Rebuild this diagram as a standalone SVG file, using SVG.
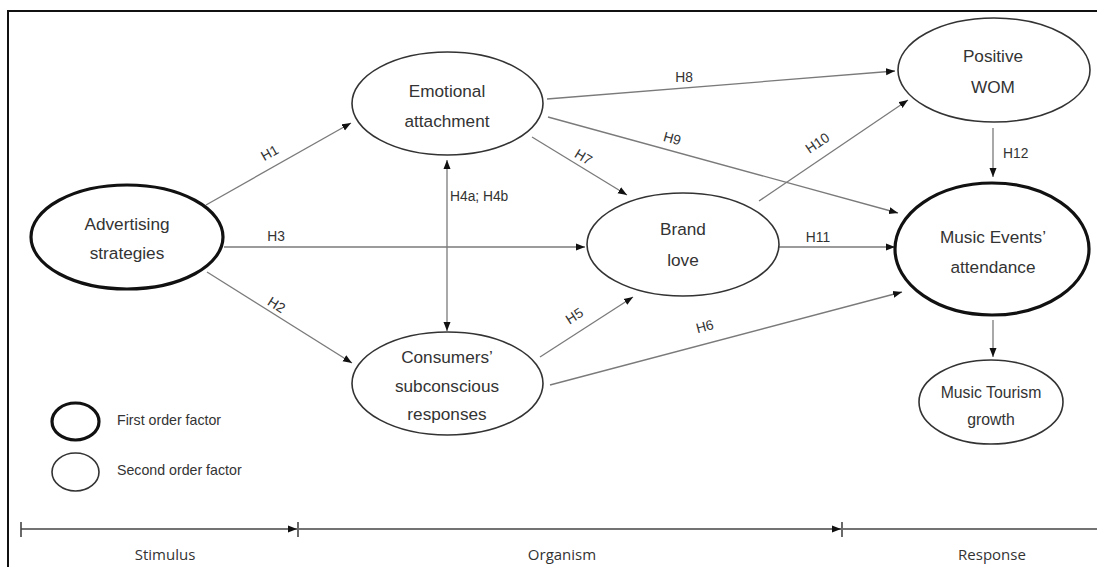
<svg xmlns="http://www.w3.org/2000/svg" width="1097" height="567" viewBox="0 0 1097 567">
<style>
  .thin { fill: #fff; stroke: #333; stroke-width: 1.6; }
  .thick { fill: #fff; stroke: #111; stroke-width: 3.2; }
  .nt { font-family: "Liberation Sans", Arial, sans-serif; font-size: 17.2px; fill: #333; text-anchor: middle; }
  .lbl { font-family: "Liberation Sans", Arial, sans-serif; font-size: 13.8px; fill: #333; text-anchor: middle; }
  .lg { font-family: "Liberation Sans", Arial, sans-serif; font-size: 14.2px; fill: #333; }
  .tl { font-family: "Open Sans", "DejaVu Sans", sans-serif; font-size: 15px; fill: #333; text-anchor: middle; }
  .c { stroke: #7a7a7a; stroke-width: 1.3; fill: none; }
  .axis { stroke: #444; stroke-width: 1.6; fill: none; }
</style>
<defs>
  <marker id="arr" markerUnits="userSpaceOnUse" markerWidth="10" markerHeight="8" refX="9" refY="4" orient="auto">
    <path d="M0,0.5 L9,4 L0,7.5 z" fill="#111"/>
  </marker>
  <marker id="arrs" markerUnits="userSpaceOnUse" markerWidth="10" markerHeight="8" refX="9" refY="4" orient="auto-start-reverse">
    <path d="M0,0.5 L9,4 L0,7.5 z" fill="#111"/>
  </marker>
</defs>
<rect width="1097" height="567" fill="#fff"/>
<!-- frame -->
<path d="M8,567 L8,11 L1097,11" stroke="#111" stroke-width="2" fill="none"/>

<g id="connectors">
  <line class="c" x1="206" y1="205" x2="351" y2="123" marker-end="url(#arr)"/>
  <line class="c" x1="224" y1="247" x2="585" y2="247" marker-end="url(#arr)"/>
  <line class="c" x1="207" y1="272" x2="352" y2="363" marker-end="url(#arr)"/>
  <line class="c" x1="447" y1="160" x2="447" y2="331" marker-start="url(#arrs)" marker-end="url(#arr)"/>
  <line class="c" x1="532" y1="137" x2="627" y2="195" marker-end="url(#arr)"/>
  <line class="c" x1="547" y1="99" x2="895" y2="71" marker-end="url(#arr)"/>
  <line class="c" x1="548" y1="117" x2="898" y2="213" marker-end="url(#arr)"/>
  <line class="c" x1="759" y1="201" x2="908" y2="100" marker-end="url(#arr)"/>
  <line class="c" x1="779" y1="247" x2="895" y2="247" marker-end="url(#arr)"/>
  <line class="c" x1="993" y1="128" x2="993" y2="177" marker-end="url(#arr)"/>
  <line class="c" x1="540" y1="357" x2="633" y2="297" marker-end="url(#arr)"/>
  <line class="c" x1="550" y1="385" x2="902" y2="292" marker-end="url(#arr)"/>
  <line class="c" x1="993" y1="320" x2="993" y2="357" marker-end="url(#arr)"/>
  <text class="lbl" transform="translate(272,157) rotate(-29.4)">H1</text>
  <text class="lbl" x="276" y="241">H3</text>
  <text class="lbl" transform="translate(274,309) rotate(32)">H2</text>
  <text class="lbl" x="450" y="201" style="text-anchor:start">H4a; H4b</text>
  <text class="lbl" transform="translate(581,161) rotate(31.4)">H7</text>
  <text class="lbl" x="684" y="82">H8</text>
  <text class="lbl" transform="translate(671,143) rotate(15.3)">H9</text>
  <text class="lbl" transform="translate(820,147) rotate(-34)">H10</text>
  <text class="lbl" x="818" y="242">H11</text>
  <text class="lbl" x="1003" y="158" style="text-anchor:start">H12</text>
  <text class="lbl" transform="translate(577,320) rotate(-33)">H5</text>
  <text class="lbl" transform="translate(706,331) rotate(-14.8)">H6</text>
</g>

<g id="advertising">
  <ellipse class="thick" cx="127" cy="237" rx="96" ry="52"/>
  <text class="nt" x="127" y="230">Advertising</text>
  <text class="nt" x="127" y="259">strategies</text>
</g>
<g id="emotional">
  <ellipse class="thin" cx="447.5" cy="103.5" rx="95.5" ry="51.5"/>
  <text class="nt" x="447" y="97">Emotional</text>
  <text class="nt" x="447" y="127">attachment</text>
</g>
<g id="consumers">
  <ellipse class="thin" cx="447.5" cy="383.5" rx="95.5" ry="51.5"/>
  <text class="nt" x="447" y="363">Consumers’</text>
  <text class="nt" x="447" y="392">subconscious</text>
  <text class="nt" x="447" y="420">responses</text>
</g>
<g id="brandlove">
  <ellipse class="thin" cx="683" cy="244.5" rx="96" ry="51.5"/>
  <text class="nt" x="683" y="235">Brand</text>
  <text class="nt" x="683" y="266">love</text>
</g>
<g id="wom">
  <ellipse class="thin" cx="994" cy="70" rx="96" ry="52"/>
  <text class="nt" x="993" y="62">Positive</text>
  <text class="nt" x="993" y="93">WOM</text>
</g>
<g id="attendance">
  <ellipse class="thick" cx="992" cy="249" rx="97" ry="66"/>
  <text class="nt" x="993" y="243">Music Events’</text>
  <text class="nt" x="993" y="273">attendance</text>
</g>
<g id="tourism">
  <ellipse class="thin" cx="991" cy="402" rx="72" ry="42"/>
  <text class="nt" x="991" y="398" style="font-size:15.8px">Music Tourism</text>
  <text class="nt" x="991" y="425" style="font-size:15.8px">growth</text>
</g>

<g id="legend">
  <ellipse class="thick" cx="75.5" cy="421.5" rx="23.5" ry="18.5"/>
  <text class="lg" x="117" y="425">First order factor</text>
  <ellipse class="thin" cx="75.5" cy="472" rx="23.5" ry="19"/>
  <text class="lg" x="117" y="475">Second order factor</text>
</g>

<g id="timeline">
  <line class="axis" x1="21" y1="529" x2="297" y2="529" marker-end="url(#arr)"/>
  <line class="axis" x1="299" y1="529" x2="841" y2="529" marker-end="url(#arr)"/>
  <line class="axis" x1="843" y1="529" x2="1097" y2="529"/>
  <line class="axis" x1="21" y1="522" x2="21" y2="537"/>
  <line class="axis" x1="298" y1="522" x2="298" y2="537"/>
  <line class="axis" x1="842" y1="522" x2="842" y2="537"/>
  <text class="tl" x="165" y="560">Stimulus</text>
  <text class="tl" x="562" y="560">Organism</text>
  <text class="tl" x="992" y="560">Response</text>
</g>
</svg>
